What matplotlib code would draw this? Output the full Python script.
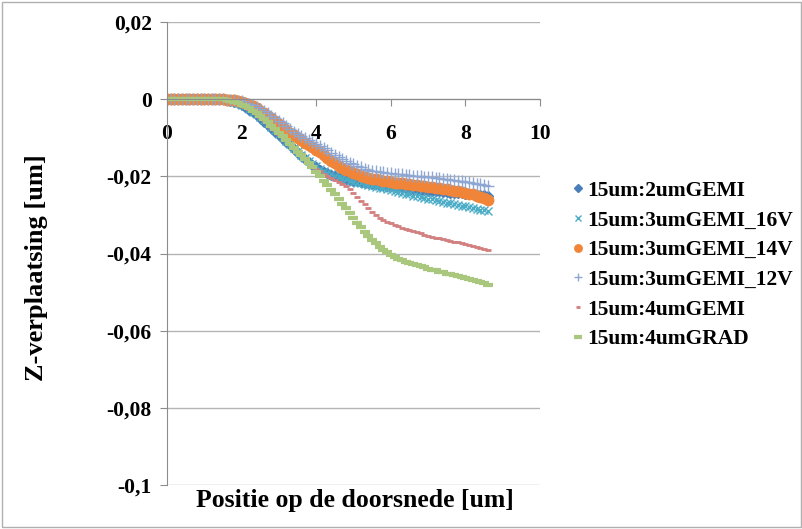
import numpy as np
import matplotlib
matplotlib.use("Agg")
import matplotlib.pyplot as plt
from matplotlib.patches import Rectangle

plt.rcParams['font.family'] = ['Liberation Serif', 'DejaVu Serif']
plt.rcParams['font.weight'] = 'bold'

# x positions along the cross-section (um)
x_pos = np.round(np.arange(0, 8.65, 0.1), 1)

zeros16 = [0.0, 0.0, 0.0, 0.0, 0.0, 0.0, 0.0, 0.0, 0.0, 0.0, 0.0, 0.0, 0.0, 0.0, 0.0, 0.0]

gemi_2um = zeros16 + [
    -0.0002, -0.0004, -0.0007, -0.0011,
    -0.0015, -0.0021, -0.0027, -0.0034, -0.0042, -0.0050, -0.0058, -0.0066, -0.0075, -0.0084,
    -0.0093, -0.0102, -0.0111, -0.0120, -0.0130, -0.0139, -0.0148, -0.0156, -0.0164, -0.0171,
    -0.0177, -0.0183, -0.0188, -0.0192, -0.0196, -0.0199, -0.0202, -0.0205, -0.0207, -0.0209,
    -0.0211, -0.0213, -0.0214, -0.0216, -0.0217, -0.0219, -0.0220, -0.0222, -0.0223, -0.0225,
    -0.0226, -0.0227, -0.0228, -0.0230, -0.0231, -0.0232, -0.0233, -0.0234, -0.0235, -0.0236,
    -0.0237, -0.0238, -0.0239, -0.0239, -0.0240, -0.0241, -0.0242, -0.0243, -0.0243, -0.0244,
    -0.0245, -0.0246, -0.0247, -0.0248, -0.0248, -0.0249, -0.0250]

gemi_3um_16v = zeros16 + [
    -0.0002, -0.0004, -0.0006, -0.0010,
    -0.0014, -0.0019, -0.0025, -0.0032, -0.0039, -0.0047, -0.0055, -0.0063, -0.0072, -0.0081,
    -0.0090, -0.0099, -0.0108, -0.0117, -0.0126, -0.0135, -0.0144, -0.0152, -0.0160, -0.0167,
    -0.0174, -0.0180, -0.0186, -0.0191, -0.0195, -0.0199, -0.0202, -0.0205, -0.0208, -0.0211,
    -0.0214, -0.0216, -0.0218, -0.0220, -0.0222, -0.0225, -0.0227, -0.0229, -0.0231, -0.0234,
    -0.0236, -0.0238, -0.0241, -0.0243, -0.0245, -0.0247, -0.0250, -0.0252, -0.0254, -0.0256,
    -0.0258, -0.0260, -0.0262, -0.0264, -0.0266, -0.0268, -0.0270, -0.0272, -0.0274, -0.0276,
    -0.0278, -0.0280, -0.0282, -0.0284, -0.0286, -0.0288, -0.0290]

gemi_3um_14v = zeros16 + [
    -0.0001, -0.0002, -0.0003, -0.0005,
    -0.0007, -0.0010, -0.0014, -0.0019, -0.0024, -0.0030, -0.0036, -0.0043, -0.0050, -0.0057,
    -0.0064, -0.0071, -0.0079, -0.0087, -0.0094, -0.0101, -0.0107, -0.0113, -0.0119, -0.0125,
    -0.0131, -0.0138, -0.0145, -0.0152, -0.0159, -0.0166, -0.0172, -0.0178, -0.0183, -0.0187,
    -0.0191, -0.0195, -0.0198, -0.0201, -0.0204, -0.0206, -0.0208, -0.0210, -0.0212, -0.0213,
    -0.0215, -0.0216, -0.0217, -0.0218, -0.0219, -0.0220, -0.0222, -0.0223, -0.0224, -0.0225,
    -0.0227, -0.0228, -0.0229, -0.0231, -0.0232, -0.0234, -0.0235, -0.0237, -0.0239, -0.0241,
    -0.0243, -0.0245, -0.0247, -0.0250, -0.0253, -0.0257, -0.0261]

gemi_3um_12v = zeros16 + [
    -0.0001, -0.0002, -0.0003, -0.0004,
    -0.0006, -0.0009, -0.0012, -0.0016, -0.0020, -0.0025, -0.0031, -0.0037, -0.0043, -0.0049,
    -0.0056, -0.0063, -0.0070, -0.0077, -0.0084, -0.0090, -0.0096, -0.0101, -0.0106, -0.0111,
    -0.0116, -0.0121, -0.0127, -0.0133, -0.0139, -0.0145, -0.0150, -0.0155, -0.0160, -0.0165,
    -0.0169, -0.0173, -0.0177, -0.0180, -0.0183, -0.0185, -0.0187, -0.0189, -0.0190, -0.0191,
    -0.0192, -0.0193, -0.0194, -0.0195, -0.0196, -0.0197, -0.0198, -0.0199, -0.0200, -0.0201,
    -0.0202, -0.0203, -0.0204, -0.0205, -0.0206, -0.0208, -0.0209, -0.0210, -0.0211, -0.0213,
    -0.0214, -0.0215, -0.0217, -0.0219, -0.0221, -0.0223, -0.0226]

gemi_4um = zeros16 + [
    -0.0002, -0.0004, -0.0007, -0.0010,
    -0.0014, -0.0019, -0.0025, -0.0031, -0.0038, -0.0046, -0.0054, -0.0062, -0.0071, -0.0080,
    -0.0089, -0.0098, -0.0107, -0.0117, -0.0126, -0.0136, -0.0145, -0.0155, -0.0164, -0.0172,
    -0.0180, -0.0187, -0.0194, -0.0200, -0.0205, -0.0210, -0.0215, -0.0220, -0.0226, -0.0234,
    -0.0243, -0.0253, -0.0263, -0.0273, -0.0283, -0.0292, -0.0300, -0.0307, -0.0313, -0.0318,
    -0.0322, -0.0326, -0.0330, -0.0333, -0.0336, -0.0339, -0.0342, -0.0345, -0.0348, -0.0351,
    -0.0354, -0.0357, -0.0359, -0.0361, -0.0363, -0.0365, -0.0367, -0.0369, -0.0371, -0.0373,
    -0.0376, -0.0378, -0.0380, -0.0383, -0.0386, -0.0389, -0.0392]

grad_4um = zeros16 + [
    -0.0002, -0.0004, -0.0007, -0.0010,
    -0.0014, -0.0019, -0.0024, -0.0030, -0.0037, -0.0044, -0.0052, -0.0060, -0.0069, -0.0078,
    -0.0087, -0.0096, -0.0106, -0.0116, -0.0126, -0.0136, -0.0146, -0.0156, -0.0166, -0.0177,
    -0.0188, -0.0199, -0.0211, -0.0223, -0.0235, -0.0247, -0.0259, -0.0271, -0.0283, -0.0296,
    -0.0308, -0.0320, -0.0332, -0.0343, -0.0354, -0.0364, -0.0374, -0.0383, -0.0391, -0.0397,
    -0.0403, -0.0408, -0.0413, -0.0417, -0.0421, -0.0424, -0.0427, -0.0430, -0.0433, -0.0436,
    -0.0439, -0.0442, -0.0444, -0.0447, -0.0449, -0.0452, -0.0454, -0.0456, -0.0459, -0.0461,
    -0.0463, -0.0466, -0.0468, -0.0471, -0.0474, -0.0477, -0.0481]

series_labels = ["15um:2umGEMI", "15um:3umGEMI_16V", "15um:3umGEMI_14V",
                 "15um:3umGEMI_12V", "15um:4umGEMI", "15um:4umGRAD"]

y_ticks = [0.02, 0.0, -0.02, -0.04, -0.06, -0.08, -0.1]
y_tick_labels = ["0,02", "0", "-0,02", "-0,04", "-0,06", "-0,08", "-0,1"]
x_ticks = [0, 2, 4, 6, 8, 10]
x_tick_labels = ["0", "2", "4", "6", "8", "10"]

fig = plt.figure(figsize=(8.03, 5.29), dpi=100)
fig.patches.append(Rectangle((0.003, 0.003), 0.994, 0.993, transform=fig.transFigure,
                             fill=False, edgecolor='#B0B0B0', linewidth=1.0))
ax = fig.add_axes([167/803, 1-485/529, (540-167)/803, (485-22)/529])

styles = [
    dict(marker='D', color='#4A7EBB', markersize=5, linestyle='none'),
    dict(marker='x', color='#4BACC6', markersize=6, markeredgewidth=1.0, linestyle='none'),
    dict(marker='o', color='#F0853A', markersize=8.5, linestyle='none', markeredgewidth=0),
    dict(marker='+', color='#8EA6D2', markersize=8, markeredgewidth=1.0, linestyle='none'),
    dict(marker='_', color='#D27F7E', markersize=4.5, markeredgewidth=2.0, linestyle='none'),
    dict(marker='_', color='#A9C87E', markersize=7, markeredgewidth=3.0, linestyle='none'),
]
all_series = [gemi_2um, gemi_3um_16v, gemi_3um_14v, gemi_3um_12v, gemi_4um, grad_4um]
handles = []
for vals, lab, st in zip(all_series, series_labels, styles):
    h, = ax.plot(x_pos, vals, label=lab, **st)
    handles.append(h)

ax.set_xlim(0, 10)
ax.set_ylim(-0.1, 0.02)
ax.set_yticks(y_ticks)
ax.set_yticklabels(y_tick_labels)
ax.set_xticks(x_ticks)
ax.set_xticklabels(x_tick_labels)

ax.yaxis.grid(True, color='#B4B4B4', linewidth=1.0)
ax.set_axisbelow(True)
for s in ['top', 'right']:
    ax.spines[s].set_visible(False)
ax.spines['bottom'].set_position(('data', 0))
ax.spines['bottom'].set_color('#8C8C8C')
ax.spines['left'].set_color('#8C8C8C')
ax.tick_params(axis='y', direction='out', length=5, color='#8C8C8C', pad=6,
               labelsize=15.5)
ax.tick_params(axis='x', direction='out', length=5, color='#8C8C8C', pad=13,
               labelsize=15.5)
for t in ax.get_xticklabels() + ax.get_yticklabels():
    t.set_fontweight('bold')

fig.text(37/803, 1-268/529, "Z-verplaatsing [um]", rotation=90, ha='center', va='center',
         fontsize=19, fontweight='bold')
fig.text(355/803, 1-500/529, "Positie op de doorsnede [um]", ha='center', va='center',
         fontsize=18.5, fontweight='bold')

leg = fig.legend(handles=handles, labels=series_labels, loc='center left',
                 bbox_to_anchor=(572/803, 1-265/529), frameon=False,
                 prop={'family': 'Liberation Serif', 'weight': 'bold', 'size': 15.5},
                 handlelength=0.6, handletextpad=0.1, labelspacing=0.45,
                 markerscale=0.75, borderpad=0, borderaxespad=0)

fig.savefig("out.png", dpi=100)
